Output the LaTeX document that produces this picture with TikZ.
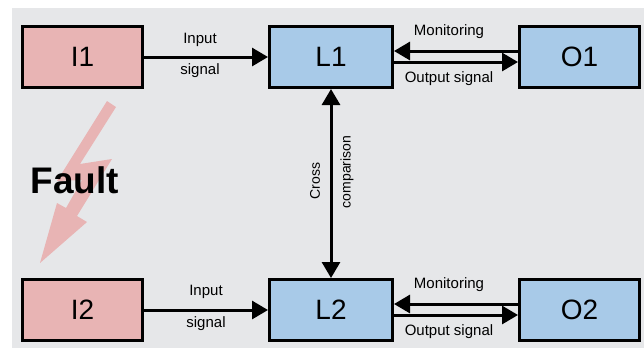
\documentclass[tikz,border=0pt]{standalone}
\usepackage{fontspec}
\setmainfont{Liberation Sans}
\usetikzlibrary{arrows.meta, positioning}
\definecolor{inpink}{RGB}{232,180,180}
\definecolor{logicblue}{RGB}{168,202,232}
\definecolor{bggray}{RGB}{230,231,233}
\tikzset{
  sig/.style={draw=black, line width=3pt, -{Triangle[length=16pt,width=18pt]}},
  sigboth/.style={draw=black, line width=3pt, {Triangle[length=16pt,width=18pt]}-{Triangle[length=16pt,width=18pt]}},
  lbl/.style={draw=none, fill=none, inner sep=0pt, font=\fontsize{15}{17}\selectfont}
}

\begin{document}
\begin{tikzpicture}[x=1pt,y=-1pt]
 \useasboundingbox (0,0) rectangle (644,349);
 \fill[bggray] (12,8) rectangle (644,348);
 %lightning
 \fill[inpink] (107,101) -- (116,107) -- (80,164) -- (112,159) -- (77,216) -- (87,222)
   -- (40,263) -- (57,203) -- (66,208) -- (82,180) -- (57,181) -- cycle;
 \node (fault) [font=\fontsize{37}{40}\selectfont\bfseries, inner sep=0pt] at (75,180) {Fault};

 \begin{scope}[every node/.style={draw=black, line width=3pt, minimum height=61pt, font=\fontsize{28}{30}\selectfont}]
    \node (i1) [fill=inpink, minimum width=120pt] at (82.5,57) {I1};
    \node (l1) [fill=logicblue, minimum width=123pt] at (331,57) {L1};
    \node (o1) [fill=logicblue, minimum width=120pt] at (579.5,57) {O1};
    \node (i2) [fill=inpink, minimum width=120pt] at (82.5,310) {I2};
    \node (l2) [fill=logicblue, minimum width=123pt] at (331,310) {L2};
    \node (o2) [fill=logicblue, minimum width=120pt] at (579.5,310) {O2};
 \end{scope}

 \begin{scope}[every node/.style={lbl}]
   \draw[sig] (i1) -- (l1) node[midway, xshift=-6pt, yshift=17pt] {Input}
                           node[midway, xshift=-6pt, yshift=-14pt] {signal};
   \draw[sig] ([yshift=6pt]o1.west) -- ([yshift=6pt]l1.east) node[midway, xshift=-7pt, yshift=19pt] {Monitoring};
   \draw[sig] ([yshift=-5pt]l1.east) -- ([yshift=-5pt]o1.west) node[midway, xshift=-7pt, yshift=-17pt] {Output signal};

   \draw[sig] (i2) -- (l2) node[midway, yshift=18pt] {Input}
                           node[midway, yshift=-14pt] {signal};
   \draw[sig] ([yshift=6pt]o2.west) -- ([yshift=6pt]l2.east) node[midway, xshift=-7pt, yshift=19pt] {Monitoring};
   \draw[sig] ([yshift=-5pt]l2.east) -- ([yshift=-5pt]o2.west) node[midway, xshift=-7pt, yshift=-17pt] {Output signal};

   \draw[sigboth] (l1) -- (l2);
   \node (cross) [rotate=90, font=\fontsize{14}{16}\selectfont] at (315,181) {Cross};
   \node (comp) [rotate=90, font=\fontsize{14}{16}\selectfont] at (347,172) {comparison};
 \end{scope}
\end{tikzpicture}
\end{document}
